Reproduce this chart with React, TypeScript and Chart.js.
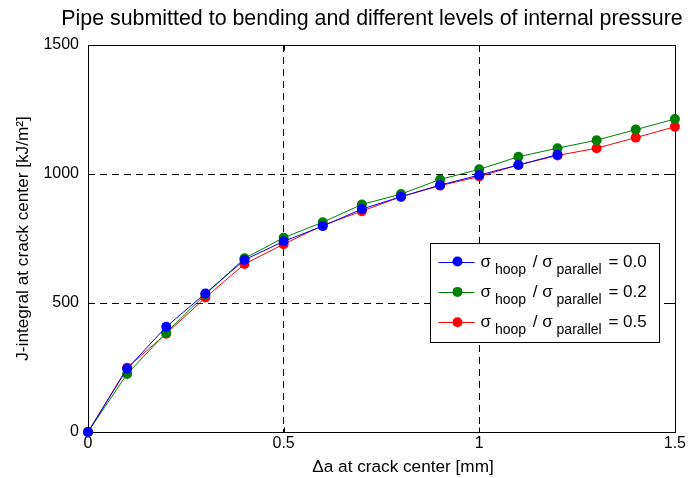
import React, { useEffect, useRef } from "react";
import { Chart, registerables } from "chart.js";

Chart.register(...registerables);

const TITLE = "Pipe submitted to bending and different levels of internal pressure";
const X_LABEL = "Δa at crack center [mm]";
const Y_LABEL = "J-integral at crack center [kJ/m²]";

const xValues = [0, 0.1, 0.2, 0.3, 0.4, 0.5, 0.6, 0.7, 0.8, 0.9, 1.0, 1.1, 1.2, 1.3, 1.4, 1.5];
const xTicks = [0, 0.5, 1, 1.5];
const yTicks = [0, 500, 1000, 1500];

const ratio00 = [0, 245, 408, 537, 667, 739, 798, 864, 912, 957, 996, 1035, 1075];
const ratio02 = [0, 225, 385, 533, 673, 753, 813, 882, 922, 979, 1018, 1067, 1100, 1131, 1172, 1213];
const ratio05 = [0, 249, 381, 521, 651, 728, 801, 856, 912, 955, 990, 1035, 1072, 1100, 1141, 1183];

const legendRatios = ["0.0", "0.2", "0.5"];
const seriesColors = ["#0000ff", "#008000", "#ff0000"];

const FONT = "'Liberation Sans', Arial, Helvetica, sans-serif";

const toPoints = (ys: number[]) => ys.map((y, i) => ({ x: xValues[i], y }));

const boxPlugin = {
  id: "matlabBox",
  beforeDatasetsDraw(chart: any) {
    const { ctx, chartArea } = chart;
    const l = Math.round(chartArea.left) + 0.5;
    const r = Math.round(chartArea.right) + 0.5;
    const t = Math.round(chartArea.top) + 0.5;
    const b = Math.round(chartArea.bottom) + 0.5;
    ctx.save();
    ctx.strokeStyle = "#000";
    ctx.lineWidth = 1;
    ctx.setLineDash([]);
    ctx.strokeRect(l, t, r - l, b - t);
    const tl = 5;
    ctx.beginPath();
    const xs = chart.scales.x;
    xTicks.forEach((v) => {
      const px = Math.round(xs.getPixelForValue(v)) + 0.5;
      ctx.moveTo(px, b);
      ctx.lineTo(px, b - tl);
      ctx.moveTo(px, t);
      ctx.lineTo(px, t + tl);
    });
    const ys = chart.scales.y;
    yTicks.forEach((v) => {
      const py = Math.round(ys.getPixelForValue(v)) + 0.5;
      ctx.moveTo(l, py);
      ctx.lineTo(l + tl, py);
      ctx.moveTo(r, py);
      ctx.lineTo(r - tl, py);
    });
    ctx.stroke();
    ctx.restore();
  },
  afterDraw(chart: any) {
    const { ctx, chartArea } = chart;
    ctx.save();
    // title
    ctx.fillStyle = "#000";
    ctx.font = `21.4px ${FONT}`;
    ctx.textAlign = "center";
    ctx.textBaseline = "alphabetic";
    ctx.fillText(TITLE, chartArea.left + 284, 25);

    // x axis label
    ctx.font = `17.2px ${FONT}`;
    ctx.fillText(X_LABEL, chartArea.left + 315, 472);

    // legend
    const bw = 229;
    const bh = 99;
    const bx = Math.round(chartArea.right - 16 - bw) + 0.5;
    const by = Math.round(chartArea.bottom - 90 - bh) + 0.5;
    ctx.fillStyle = "#fff";
    ctx.fillRect(bx, by, bw, bh);
    ctx.strokeStyle = "#000";
    ctx.lineWidth = 1;
    ctx.strokeRect(bx, by, bw, bh);
    chart.data.datasets.forEach((ds: any, i: number) => {
      const ry = by + 18 + i * 30.4;
      ctx.strokeStyle = ds.borderColor;
      ctx.lineWidth = 1;
      ctx.beginPath();
      ctx.moveTo(bx + 8, Math.round(ry) + 0.5);
      ctx.lineTo(bx + 44, Math.round(ry) + 0.5);
      ctx.stroke();
      ctx.fillStyle = ds.backgroundColor;
      ctx.beginPath();
      ctx.arc(bx + 27, ry, 5, 0, Math.PI * 2);
      ctx.fill();
      ctx.fillStyle = "#000";
      ctx.textAlign = "left";
      ctx.textBaseline = "alphabetic";
      let x = bx + 50;
      const mainY = ry + 5;
      const subY = ry + 12;
      const parts: [string, boolean][] = [
        ["σ", false],
        [" hoop", true],
        [" / σ", false],
        [" parallel", true],
        [" = " + legendRatios[i], false],
      ];
      parts.forEach(([txt, sub]) => {
        ctx.font = sub ? `14px ${FONT}` : `17px ${FONT}`;
        ctx.fillText(txt, x, sub ? subY : mainY);
        x += ctx.measureText(txt).width + (sub ? 2 : 0);
      });
    });
    ctx.restore();
  },
};

export default function App() {
  const ref = useRef<HTMLCanvasElement | null>(null);
  useEffect(() => {
    if (!ref.current) return;
    const labels = legendRatios.map((r) => `σ hoop / σ parallel = ${r}`);
    const series = [ratio00, ratio02, ratio05];
    const chart = new Chart(ref.current, {
      type: "line",
      data: {
        datasets: series.map((s, i) => ({
          label: labels[i],
          data: toPoints(s),
          borderColor: seriesColors[i],
          backgroundColor: seriesColors[i],
          pointBackgroundColor: seriesColors[i],
          pointBorderColor: seriesColors[i],
          pointBorderWidth: 0,
          pointRadius: 5,
          pointHoverRadius: 5,
          borderWidth: 1,
          tension: 0,
          clip: false as any,
        })),
      },
      options: {
        animation: false,
        responsive: false,
        maintainAspectRatio: false,
        layout: { padding: { top: 45, right: 11, left: 0, bottom: 0 } },
        plugins: {
          legend: { display: false },
          title: { display: false },
          tooltip: { enabled: false },
        },
        scales: {
          x: {
            type: "linear",
            min: 0,
            max: 1.5,
            afterBuildTicks: (s: any) => {
              s.ticks = xTicks.map((v) => ({ value: v }));
            },
            afterFit: (s: any) => {
              s.height = 46;
            },
            ticks: {
              color: "#000",
              font: { family: FONT, size: 16 },
              padding: 2,
              maxRotation: 0,
              callback: (v: any) => String(v),
            },
            grid: {
              drawTicks: false,
              color: (c: any) =>
                c.tick && (c.tick.value === 0 || c.tick.value === 1.5) ? "rgba(0,0,0,0)" : "#000",
            },
            border: { display: false, dash: [7, 5] },
            title: { display: false },
          },
          y: {
            type: "linear",
            min: 0,
            max: 1500,
            afterBuildTicks: (s: any) => {
              s.ticks = yTicks.map((v) => ({ value: v }));
            },
            afterFit: (s: any) => {
              s.width = 88;
            },
            ticks: {
              color: "#000",
              font: { family: FONT, size: 16 },
              padding: 9,
              callback: (v: any) => String(v),
            },
            grid: {
              drawTicks: false,
              color: (c: any) =>
                c.tick && (c.tick.value === 0 || c.tick.value === 1500) ? "rgba(0,0,0,0)" : "#000",
            },
            border: { display: false, dash: [7, 5] },
            title: {
              display: true,
              text: Y_LABEL,
              color: "#000",
              font: { family: FONT, size: 17.2 },
              padding: { top: 13, bottom: 0 },
            },
          },
        },
      },
      plugins: [boxPlugin],
    });
    return () => chart.destroy();
  }, []);
  return (
    <div style={{ position: "absolute", left: 0, top: 0, width: 688, height: 478, background: "#fff" }}>
      <canvas ref={ref} width={688} height={478} style={{ display: "block" }} />
    </div>
  );
}
